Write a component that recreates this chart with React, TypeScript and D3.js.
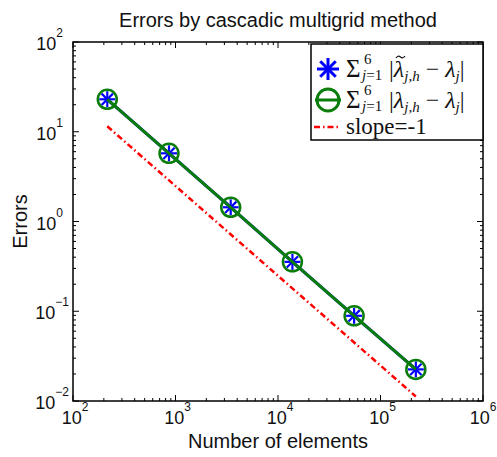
import React from "react";
import * as d3 from "d3";

const elements = [216, 864, 3456, 13824, 55296, 221184];
const errTilde = [23.0, 5.75, 1.44, 0.355, 0.089, 0.0225];
const errExact = [23.0, 5.75, 1.44, 0.355, 0.089, 0.0225];
const slopeX = [216, 221184];
const slopeY = [11.5, 11.5 * 216 / 221184];
const xTickExp = [2, 3, 4, 5, 6];
const yTickExp = [-2, -1, 0, 1, 2];

const W = 497, H = 457;
const L = 73, R = 483, T = 42, B = 401;

export default function App() {
  const x = d3.scaleLog().domain([1e2, 1e6]).range([L, R]);
  const y = d3.scaleLog().domain([1e-2, 1e2]).range([B, T]);
  const line = d3.line<[number, number]>().x(d => x(d[0])).y(d => y(d[1]));
  const s1: [number, number][] = elements.map((e, i) => [e, errTilde[i]]);
  const s2: [number, number][] = elements.map((e, i) => [e, errExact[i]]);
  const sl: [number, number][] = slopeX.map((e, i) => [e, slopeY[i]]);

  const xMinor: number[] = [];
  for (let p = 2; p < 6; p++) for (let k = 2; k <= 9; k++) xMinor.push(k * Math.pow(10, p));
  const yMinor: number[] = [];
  for (let p = -2; p < 2; p++) for (let k = 2; k <= 9; k++) yMinor.push(k * Math.pow(10, p));

  const green = "#0a7d0a";
  const blue = "#0000ff";
  const red = "#ff0000";
  const sans = "Liberation Sans, Arial, sans-serif";
  const serif = "Liberation Serif, Times New Roman, serif";

  const asterisk = (cx: number, cy: number, r: number, w: number, key: any) => (
    <g key={key} stroke={blue} strokeWidth={w}>
      {[0, 45, 90, 135].map(a => {
        const rad = (a * Math.PI) / 180;
        return <line key={a} x1={cx - r * Math.cos(rad)} y1={cy - r * Math.sin(rad)} x2={cx + r * Math.cos(rad)} y2={cy + r * Math.sin(rad)} />;
      })}
    </g>
  );

  const expLabel = (e: number) => (e < 0 ? "\u2212" + -e : String(e));

  return (
    <svg width={W} height={H} style={{ position: "absolute", left: 0, top: 0, background: "#fff" }}>
      <rect x={0} y={0} width={W} height={H} fill="#fff" />
      {/* ticks */}
      <g stroke="#000" strokeWidth={1}>
        {xTickExp.map(e => (
          <g key={"xt" + e}>
            <line x1={x(Math.pow(10, e))} x2={x(Math.pow(10, e))} y1={B} y2={B - 6} />
            <line x1={x(Math.pow(10, e))} x2={x(Math.pow(10, e))} y1={T} y2={T + 6} />
          </g>
        ))}
        {xMinor.map(v => (
          <g key={"xm" + v}>
            <line x1={x(v)} x2={x(v)} y1={B} y2={B - 3} />
            <line x1={x(v)} x2={x(v)} y1={T} y2={T + 3} />
          </g>
        ))}
        {yTickExp.map(e => (
          <g key={"yt" + e}>
            <line x1={L} x2={L + 6} y1={y(Math.pow(10, e))} y2={y(Math.pow(10, e))} />
            <line x1={R} x2={R - 6} y1={y(Math.pow(10, e))} y2={y(Math.pow(10, e))} />
          </g>
        ))}
        {yMinor.map(v => (
          <g key={"ym" + v}>
            <line x1={L} x2={L + 3} y1={y(v)} y2={y(v)} />
            <line x1={R} x2={R - 3} y1={y(v)} y2={y(v)} />
          </g>
        ))}
      </g>
      <rect x={L} y={T} width={R - L} height={B - T} fill="none" stroke="#000" strokeWidth={1.5} />

      {/* tick labels */}
      {xTickExp.map(e => (
        <text key={"xl" + e} x={x(Math.pow(10, e)) + (e === 6 ? 0 : 2)} y={424} textAnchor="middle" fontFamily={sans} fontSize={18} fill="#111">
          10<tspan fontSize={12} dy={-13}>{expLabel(e)}</tspan>
        </text>
      ))}
      {yTickExp.map(e => (
        <text key={"yl" + e} x={e < 0 ? 69 : 63} y={y(Math.pow(10, e)) + 8} textAnchor="end" fontFamily={sans} fontSize={18} fill="#111">
          10<tspan fontSize={12} dy={-13}>{expLabel(e)}</tspan>
        </text>
      ))}

      {/* slope line */}
      <path d={line(sl) || ""} fill="none" stroke={red} strokeWidth={2.5} strokeDasharray="6,3,1.5,3" />

      {/* series 1 */}
      <path d={line(s1) || ""} fill="none" stroke={blue} strokeWidth={3} />
      {s1.map((d, i) => asterisk(x(d[0]), y(d[1]), 8, 2.2, "a" + i))}
      {/* series 2 */}
      <path d={line(s2) || ""} fill="none" stroke={green} strokeWidth={3} />
      {s2.map((d, i) => (
        <circle key={"c" + i} cx={x(d[0])} cy={y(d[1])} r={9.5} fill="none" stroke={green} strokeWidth={2.5} />
      ))}

      {/* title and labels */}
      <text x={278} y={27} textAnchor="middle" fontFamily={sans} fontSize={20} fill="#111">Errors by cascadic multigrid method</text>
      <text x={278} y={448} textAnchor="middle" fontFamily={sans} fontSize={20} fill="#111">Number of elements</text>
      <text transform={`translate(27,${(T + B) / 2}) rotate(-90)`} textAnchor="middle" fontFamily={sans} fontSize={20} fill="#111">Errors</text>

      {/* legend */}
      <rect x={311} y={44} width={172} height={96} fill="#fff" stroke="#000" strokeWidth={1.5} />
      {asterisk(328, 69, 11, 3, "la")}
      <line x1={315} x2={341} y1={100} y2={100} stroke={green} strokeWidth={3} />
      <circle cx={328} cy={100} r={11} fill="none" stroke={green} strokeWidth={3} />
      <line x1={314} x2={341} y1={127} y2={127} stroke={red} strokeWidth={2.5} strokeDasharray="6,3,1.5,3" />

      <g fontFamily={serif} fill="#111">
        {/* entry 1 */}
        <text x={346} y={77} fontSize={25}>Σ</text>
        <text x={364} y={64} fontSize={15}>6</text>
        <text x={362} y={80} fontSize={15}><tspan fontStyle="italic">j</tspan>=1</text>
        <text x={389} y={77} fontSize={24}>|<tspan fontStyle="italic">λ</tspan><tspan fontSize={15} dy={4} fontStyle="italic">j,h</tspan><tspan dy={-4}> − </tspan><tspan fontStyle="italic">λ</tspan><tspan fontSize={15} dy={4} fontStyle="italic">j</tspan><tspan dy={-4}>|</tspan></text>
        {/* entry 2 */}
        <text x={346} y={108} fontSize={25}>Σ</text>
        <text x={364} y={95} fontSize={15}>6</text>
        <text x={362} y={111} fontSize={15}><tspan fontStyle="italic">j</tspan>=1</text>
        <text x={389} y={108} fontSize={24}>|<tspan fontStyle="italic">λ</tspan><tspan fontSize={15} dy={4} fontStyle="italic">j,h</tspan><tspan dy={-4}> − </tspan><tspan fontStyle="italic">λ</tspan><tspan fontSize={15} dy={4} fontStyle="italic">j</tspan><tspan dy={-4}>|</tspan></text>
        {/* entry 3 */}
        <text x={346} y={134} fontSize={23}>slope=-1</text>
      </g>
      <path d="M396,58 q2,-3 4.5,-1 t4.5,-1" fill="none" stroke="#111" strokeWidth={1.2} />
    </svg>
  );
}
